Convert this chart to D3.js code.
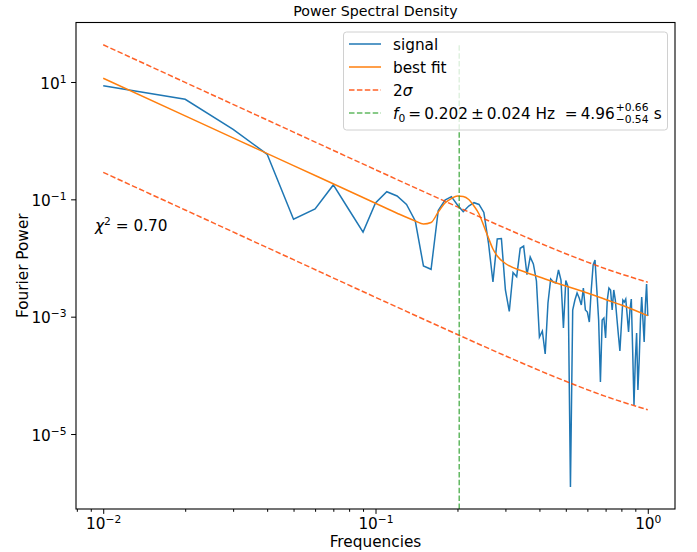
<!DOCTYPE html>
<html>
<head>
<meta charset="utf-8">
<script src="https://cdn.jsdelivr.net/npm/d3@7"></script>
<style>
  body { margin: 0; background: #fff; }
  svg { font-family: "DejaVu Sans", sans-serif; }
</style>
</head>
<body>
<script>
// chart size and plot margins
var w = 697, h = 552;
var margin = {left: 76, right: 22, top: 22.5, bottom: 43};
var iw = w - margin.left - margin.right;
var ih = h - margin.top - margin.bottom;
var fs = 15.3, fsSmall = 10.7;   // main and script font sizes

// signal: frequency grid and power
var freqs = [0.01, 0.02, 0.03, 0.04, 0.05, 0.06, 0.07, 0.08, 0.09, 0.10,
    0.11, 0.12, 0.13, 0.14, 0.15, 0.16, 0.17, 0.18, 0.19, 0.20,
    0.21, 0.22, 0.23, 0.24, 0.25, 0.26, 0.27, 0.28, 0.29, 0.30,
    0.31, 0.32, 0.33, 0.34, 0.35, 0.36, 0.37, 0.38, 0.39, 0.40,
    0.41, 0.42, 0.43, 0.44, 0.45, 0.46, 0.47, 0.48, 0.49, 0.50,
    0.51, 0.52, 0.53, 0.54, 0.55, 0.56, 0.57, 0.58, 0.59, 0.60,
    0.61, 0.62, 0.63, 0.64, 0.65, 0.66, 0.67, 0.68, 0.69, 0.70,
    0.71, 0.72, 0.73, 0.74, 0.75, 0.76, 0.77, 0.78, 0.79, 0.80,
    0.81, 0.82, 0.83, 0.84, 0.85, 0.86, 0.87, 0.88, 0.89, 0.90,
    0.91, 0.92, 0.93, 0.94, 0.95, 0.96, 0.97, 0.98, 0.99, 1.00];

var signalPower = [8.65, 5.07, 1.56, 0.586, 0.0457, 0.0685, 0.176, 0.0658, 0.0277, 0.0866,
    0.135, 0.114, 0.0817, 0.0427, 0.00731, 0.00642, 0.0645, 0.0974, 0.111, 0.0801,
    0.0616, 0.0770, 0.0877, 0.0817, 0.0597, 0.0180, 0.00390, 0.0211, 0.0215, 0.00285,
    0.00123, 0.00566, 0.00480, 0.01464, 0.0160, 0.00519, 0.0104, 0.00791, 0.00406, 0.000451,
    0.000570, 0.000231, 0.00171, 0.00439, 0.00390, 0.00375, 0.00625, 0.00422, 0.000641, 0.00414,
    0.00321, 0.00000125, 0.00130, 0.00192, 0.00253, 0.00208, 0.00158, 0.00308, 0.00130, 0.00120,
    0.000811, 0.00285, 0.00760, 0.00925, 0.00285, 0.000878, 0.000077, 0.000878, 0.000950, 0.000433,
    0.00192, 0.00308, 0.00285, 0.00130, 0.00285, 0.00192, 0.000950, 0.000488, 0.000260, 0.000721,
    0.00192, 0.00178, 0.00200, 0.00107, 0.000548, 0.00130, 0.00200, 0.000270, 0.0000312, 0.000183,
    0.000527, 0.0000562, 0.000183, 0.000878, 0.00216, 0.000878, 0.000370, 0.00158, 0.00361, 0.00103];

// best fit
var fitFreqs = [0.01, 0.02, 0.05, 0.10, 0.12, 0.14, 0.15, 0.16, 0.17, 0.18, 0.19, 0.20,
    0.21, 0.22, 0.23, 0.24, 0.25, 0.26, 0.27, 0.28, 0.30, 0.35, 0.40, 0.50, 0.60, 0.70,
    0.80, 0.90, 1.00];
var fitPower = [11.56, 2.64, 0.376, 0.0859, 0.0580, 0.0427, 0.0380, 0.0403, 0.0608, 0.0866, 0.1033, 0.114,
    0.1118, 0.0994, 0.0770, 0.0563, 0.0351, 0.0219, 0.01424, 0.01082, 0.00806, 0.00589, 0.00475, 0.00333, 0.00253, 0.00196,
    0.00158, 0.001274, 0.00104];

// 2 sigma bounds
var sigmaFreqs = [0.01, 0.02, 0.05, 0.10, 0.20, 0.30, 0.50, 0.70, 1.00];
var upperPower = [43.1, 9.84, 1.40, 0.320, 0.0743, 0.0322, 0.01184, 0.00655, 0.00387];
var lowerPower = [0.288, 0.0658, 0.00936, 0.00214, 0.000497, 0.000215, 0.0000792, 0.0000438, 0.0000259];

// peak frequency marker
var f0 = 0.203;
var f0Top = 43.1;

// ticks
var xTicks = [0.01, 0.1, 1];
var xTickExp = ["\u22122", "\u22121", "0"];
var xMinor = [0.008, 0.009, 0.02, 0.03, 0.04, 0.05, 0.06, 0.07, 0.08, 0.09,
    0.2, 0.3, 0.4, 0.5, 0.6, 0.7, 0.8, 0.9];
var yTicks = [10, 0.1, 0.001, 0.00001];
var yTickExp = ["1", "\u22121", "\u22123", "\u22125"];

var legendLabels = ["signal", "best fit", "2\u03c3", "f0"];

var svg = d3.select("body").append("svg")
    .attr("width", w)
    .attr("height", h);

var g = svg.append("g")
    .attr("transform", "translate(" + margin.left + "," + margin.top + ")");

var x = d3.scaleLog()
    .domain([Math.pow(10, -2.1), Math.pow(10, 0.1)])
    .range([0, iw]);

var y = d3.scaleLog()
    .domain([Math.pow(10, -6.278), Math.pow(10, 2.014)])
    .range([ih, 0]);

// lines
var line = d3.line()
    .x(function(d) { return x(d[0]); })
    .y(function(d) { return y(d[1]); });

var smooth = d3.line()
    .curve(d3.curveMonotoneX)
    .x(function(d) { return x(d[0]); })
    .y(function(d) { return y(d[1]); });

g.append("path")
    .datum(d3.zip(freqs, signalPower))
    .attr("d", line)
    .attr("fill", "none")
    .attr("stroke", "#1f77b4")
    .attr("stroke-width", 1.5);

g.append("path")
    .datum(d3.zip(fitFreqs, fitPower))
    .attr("d", smooth)
    .attr("fill", "none")
    .attr("stroke", "#ff7f0e")
    .attr("stroke-width", 1.5);

[upperPower, lowerPower].forEach(function(p) {
    g.append("path")
        .datum(d3.zip(sigmaFreqs, p))
        .attr("d", smooth)
        .attr("fill", "none")
        .attr("stroke", "#ff4500")
        .attr("stroke-opacity", 0.85)
        .attr("stroke-width", 1.5)
        .attr("stroke-dasharray", "5.5,2.4");
});

g.append("line")
    .attr("x1", x(f0)).attr("x2", x(f0))
    .attr("y1", ih).attr("y2", y(f0Top))
    .attr("stroke", "#2ca02c")
    .attr("stroke-opacity", 0.75)
    .attr("stroke-width", 1.5)
    .attr("stroke-dasharray", "5.5,2.4");

// axes
var xAxis = g.append("g")
    .attr("transform", "translate(0," + ih + ")")
    .call(d3.axisBottom(x).tickValues(xTicks).tickSize(4.9).tickPadding(4.5).tickSizeOuter(0));
xAxis.append("g")
    .call(d3.axisBottom(x).tickValues(xMinor).tickSize(2.8).tickFormat("").tickSizeOuter(0))
    .select(".domain").remove();

var yAxis = g.append("g")
    .call(d3.axisLeft(y).tickValues(yTicks).tickSize(4.9).tickPadding(4.5).tickSizeOuter(0));

[xAxis, yAxis].forEach(function(a) {
    a.attr("font-size", fs).attr("font-family", "DejaVu Sans, sans-serif");
    a.selectAll(".domain").remove();
    a.selectAll("line").attr("stroke", "#000").attr("stroke-width", 1);
});

xAxis.selectAll(".tick text").each(function(d, i) {
    var t = d3.select(this).text(null).attr("dy", "0.7em");
    if (i >= xTickExp.length) return;
    t.append("tspan").text("10");
    t.append("tspan").attr("font-size", fsSmall).attr("dy", "-0.55em").text(xTickExp[i]);
});

yAxis.selectAll(".tick text").each(function(d, i) {
    var t = d3.select(this).text(null).attr("dy", "0.4em");
    t.append("tspan").text("10");
    t.append("tspan").attr("font-size", fsSmall).attr("dy", "-0.55em").text(yTickExp[i]);
});

// frame
g.append("rect")
    .attr("width", iw).attr("height", ih)
    .attr("fill", "none")
    .attr("stroke", "#000")
    .attr("stroke-width", 1.1);

// titles
svg.append("text")
    .attr("x", margin.left + iw / 2).attr("y", 16)
    .attr("text-anchor", "middle")
    .attr("font-size", 14.2)
    .text("Power Spectral Density");

svg.append("text")
    .attr("x", margin.left + iw / 2).attr("y", 547)
    .attr("text-anchor", "middle")
    .attr("font-size", fs)
    .text("Frequencies");

svg.append("text")
    .attr("transform", "translate(28," + (margin.top + ih / 2) + ") rotate(-90)")
    .attr("text-anchor", "middle")
    .attr("font-size", fs)
    .text("Fourier Power");

// chi squared note
var chi = g.append("text")
    .attr("x", 95 - margin.left).attr("y", 231 - margin.top)
    .attr("font-size", fs);
chi.append("tspan").attr("font-style", "italic").text("\u03c7");
chi.append("tspan").attr("font-size", fsSmall).attr("dy", -6).text("2");
chi.append("tspan").attr("dy", 6).text(" = 0.70");

// legend
var lg = svg.append("g");
lg.append("rect")
    .attr("x", 343.5).attr("y", 32)
    .attr("width", 324).attr("height", 98)
    .attr("rx", 3)
    .attr("fill", "#fff").attr("fill-opacity", 0.8)
    .attr("stroke", "#d0d0d0");

var legendStyles = [
    {c: "#1f77b4", dash: null, o: 1},
    {c: "#ff7f0e", dash: null, o: 1},
    {c: "#ff4500", dash: "5.5,2.4", o: 0.85},
    {c: "#2ca02c", dash: "5.5,2.4", o: 0.75}
];
var rowY = [44, 67, 90, 113];

legendLabels.forEach(function(lab, i) {
    lg.append("line")
        .attr("x1", 349).attr("x2", 381)
        .attr("y1", rowY[i]).attr("y2", rowY[i])
        .attr("stroke", legendStyles[i].c)
        .attr("stroke-opacity", legendStyles[i].o)
        .attr("stroke-width", 1.5)
        .attr("stroke-dasharray", legendStyles[i].dash);
    if (i === 2) {
        var t2 = lg.append("text").attr("x", 393).attr("y", rowY[i] + 5.5).attr("font-size", fs);
        t2.append("tspan").text("2");
        t2.append("tspan").attr("font-style", "italic").text("\u03c3");
    } else if (i < 2) {
        lg.append("text").attr("x", 393).attr("y", rowY[i] + 5.5)
            .attr("font-size", fs).text(lab);
    }
});

// f0 legend entry with stacked errors
var fy = rowY[3] + 5.5;
var ft = lg.append("text").attr("x", 393).attr("y", fy).attr("font-size", fs);
ft.append("tspan").attr("font-style", "italic").text("f");
ft.append("tspan").attr("font-size", fsSmall).attr("dy", 3).text("0");
ft.append("tspan").attr("dy", -3).text("\u2009=\u20090.202\u2009\u00b1\u20090.024 Hz\u00a0\u00a0=\u20094.96");
var fEnd = 393 + ft.node().getComputedTextLength() + 1;
lg.append("text").attr("x", fEnd).attr("y", fy - 7.5).attr("font-size", fsSmall).text("+0.66");
lg.append("text").attr("x", fEnd).attr("y", fy + 4.5).attr("font-size", fsSmall).text("\u22120.54");
lg.append("text").attr("x", fEnd + 38).attr("y", fy).attr("font-size", fs).text("s");
</script>
</body>
</html>
